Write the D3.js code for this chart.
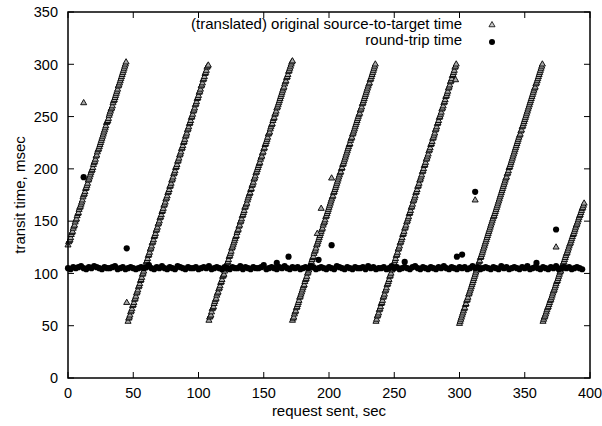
<!DOCTYPE html>
<html>
<head>
<meta charset="utf-8">
<script src="https://cdn.jsdelivr.net/npm/d3@7"></script>
<style>
    body { margin: 0; background: #fff; }
    svg { display: block; font-family: "Liberation Sans", Arial, Helvetica, sans-serif; }
    .tick-label { font-size: 14.5px; fill: #000; }
    .axis-label { font-size: 15px; fill: #000; }
    .legend-text { font-size: 15px; fill: #000; }
</style>
</head>
<body>
<svg width="602" height="426"></svg>
<script>
const width = 602;
const height = 426;

const margin = {
    top: 12,
    right: 12,
    bottom: 48,
    left: 68
};

// tick values
const xTicks = [0, 50, 100, 150, 200, 250, 300, 350, 400];
const yTicks = [0, 50, 100, 150, 200, 250, 300, 350];

// source-to-target time, one value every half second, each ramp starts at its own second
const halfStep = 0.5;

const ramp1Start = 0;
const ramp1 = [127, 130, 131, 132, 134, 137, 139, 140, 143, 145, 146, 149, 151, 152, 155, 157, 158, 161, 163, 164,
    166, 168, 170, 173, 175, 176, 178, 181, 182, 184, 186, 189, 190, 192, 194, 196, 198, 199, 201, 204,
    206, 207, 209, 212, 213, 216, 218, 219, 221, 223, 225, 227, 229, 231, 233, 235, 237, 239, 241, 244,
    245, 246, 248, 251, 253, 255, 257, 258, 260, 263, 265, 266, 268, 270, 272, 274, 276, 279, 280, 282,
    284, 286, 288, 290, 292, 294, 296, 298, 300, 302];

const ramp2Start = 46;
const ramp2 = [54, 57, 58, 60, 63, 64, 66, 69, 70, 72, 75, 76, 78, 81, 82, 84, 87, 88, 90, 93,
    94, 96, 99, 100, 102, 105, 106, 108, 111, 112, 114, 117, 118, 120, 123, 124, 126, 129, 130, 132,
    135, 136, 138, 141, 142, 144, 147, 148, 150, 153, 154, 156, 159, 160, 162, 165, 166, 168, 171, 172,
    174, 177, 178, 180, 183, 184, 186, 189, 190, 192, 195, 196, 198, 201, 202, 204, 207, 208, 210, 213,
    214, 216, 219, 220, 222, 225, 226, 228, 231, 232, 234, 237, 238, 240, 243, 244, 246, 249, 250, 252,
    255, 256, 258, 261, 262, 264, 267, 268, 270, 273, 274, 276, 279, 280, 282, 285, 286, 288, 291, 292,
    294, 297, 298, 299];

const ramp3Start = 108;
const ramp3 = [55, 58, 59, 60, 63, 66, 67, 68, 71, 73, 75, 76, 79, 81, 82, 85, 86, 88, 91, 92,
    94, 97, 98, 99, 102, 104, 105, 108, 110, 111, 113, 116, 117, 119, 121, 124, 125, 127, 129, 131,
    133, 135, 136, 139, 141, 142, 145, 146, 149, 150, 152, 155, 156, 158, 160, 163, 164, 166, 167, 170,
    172, 174, 176, 177, 180, 181, 184, 185, 187, 190, 191, 193, 196, 197, 199, 201, 203, 205, 206, 209,
    211, 212, 215, 216, 219, 220, 223, 224, 226, 228, 230, 233, 234, 235, 238, 240, 242, 243, 246, 248,
    249, 252, 253, 255, 258, 259, 261, 263, 265, 267, 269, 271, 273, 275, 277, 278, 281, 283, 284, 287,
    288, 290, 293, 294, 296, 298, 300, 302];

const ramp4Start = 172;
const ramp4 = [55, 57, 58, 61, 63, 64, 67, 68, 70, 72, 74, 77, 78, 80, 82, 84, 86, 88, 89, 92,
    94, 95, 97, 100, 101, 103, 105, 107, 109, 111, 113, 115, 116, 119, 121, 122, 124, 127, 128, 130,
    132, 134, 136, 138, 140, 142, 143, 146, 148, 149, 151, 154, 155, 157, 159, 161, 163, 165, 167, 169,
    171, 173, 174, 177, 178, 180, 182, 184, 186, 188, 190, 192, 194, 196, 197, 200, 201, 204, 205, 207,
    209, 211, 213, 215, 217, 219, 221, 223, 224, 227, 229, 230, 233, 234, 236, 238, 240, 242, 244, 246,
    248, 250, 252, 253, 256, 257, 259, 262, 263, 265, 267, 269, 271, 273, 275, 277, 279, 281, 282, 285,
    286, 288, 290, 292, 294, 296, 298, 300];

const ramp5Start = 236;
const ramp5 = [54, 56, 59, 60, 62, 65, 66, 68, 71, 72, 74, 77, 78, 80, 83, 84, 86, 89, 90, 92,
    94, 97, 98, 100, 103, 104, 106, 109, 110, 112, 114, 117, 118, 120, 123, 124, 126, 129, 130, 132,
    134, 137, 138, 140, 143, 144, 146, 149, 150, 152, 154, 157, 158, 160, 163, 164, 166, 169, 170, 172,
    174, 177, 178, 180, 183, 184, 186, 189, 190, 192, 194, 197, 198, 200, 203, 204, 206, 209, 210, 212,
    214, 217, 218, 220, 223, 224, 226, 229, 230, 232, 234, 237, 238, 240, 243, 244, 246, 249, 250, 252,
    254, 257, 258, 260, 263, 264, 266, 269, 270, 272, 274, 277, 278, 280, 283, 284, 286, 289, 290, 292,
    294, 297, 298, 300];

const ramp6Start = 300;
const ramp6 = [52, 54, 56, 58, 60, 62, 64, 66, 67, 70, 71, 74, 75, 77, 80, 81, 83, 85, 87, 89,
    91, 93, 95, 97, 99, 101, 103, 105, 107, 109, 111, 112, 115, 116, 118, 120, 122, 124, 126, 128,
    130, 132, 134, 136, 138, 140, 142, 144, 146, 148, 150, 152, 154, 155, 157, 159, 161, 163, 165, 167,
    169, 171, 173, 175, 177, 179, 181, 183, 185, 187, 189, 191, 192, 195, 196, 198, 201, 202, 204, 206,
    208, 210, 212, 214, 216, 218, 220, 222, 224, 226, 228, 230, 232, 233, 236, 237, 240, 241, 243, 245,
    247, 249, 251, 253, 255, 257, 259, 261, 263, 265, 267, 269, 271, 273, 275, 277, 278, 281, 282, 284,
    286, 288, 290, 292, 294, 296, 298, 300];

const ramp7Start = 364;
const ramp7 = [54, 56, 58, 59, 61, 63, 65, 67, 68, 70, 72, 74, 75, 77, 79, 81, 83, 84, 86, 88,
    90, 92, 93, 95, 97, 99, 101, 102, 104, 106, 108, 110, 111, 113, 115, 117, 119, 120, 122, 124,
    126, 128, 129, 131, 133, 135, 137, 138, 140, 142, 144, 146, 147, 149, 151, 153, 155, 156, 158, 160,
    162, 163, 165, 167];

// source-to-target points that fall off the ramps [sec, msec]
const sourceOutliers = [[12, 263], [45, 72], [172, 303], [191, 138], [194, 162], [202, 191], [297, 285],
    [312, 170], [374, 125]];

// round-trip time, one value every 2 seconds from 0
const rtStart = 0;
const rtStep = 2;
const roundTrip = [
    105, 104, 106, 105, 106, 107, 105, 104, 106, 105, 107, 106, 105, 104, 106, 105, 105, 106, 107, 104,
    105, 106, 104, 105, 106, 105, 104, 105, 106, 105, 106, 108, 105, 104, 106, 105, 107, 105, 104, 106,
    105, 104, 107, 106, 105, 104, 106, 105, 105, 106, 104, 105, 106, 105, 107, 104, 105, 106, 105, 104,
    106, 105, 104, 106, 105, 105, 107, 104, 106, 105, 104, 106, 105, 105, 106, 108, 104, 105, 106, 105,
    104, 106, 105, 107, 105, 104, 106, 105, 106, 104, 105, 106, 105, 107, 106, 104, 105, 106, 105, 104,
    106, 105, 104, 107, 106, 105, 104, 106, 105, 104, 106, 105, 105, 106, 104, 107, 105, 106, 104, 105,
    105, 106, 104, 105, 107, 105, 106, 104, 105, 106, 105, 104, 106, 107, 105, 104, 106, 105, 104, 106,
    105, 104, 106, 105, 107, 105, 104, 106, 105, 104, 106, 105, 106, 104, 105, 107, 105, 106, 104, 105,
    106, 105, 104, 106, 105, 104, 107, 105, 106, 104, 105, 106, 105, 104, 106, 105, 107, 104, 105, 106,
    105, 104, 106, 105, 104, 106, 105, 107, 104, 105, 106, 105, 106, 104, 105, 106, 105, 104];

// round-trip points away from the band [sec, msec]
const rtOutliers = [[12, 192], [45, 124], [160, 110], [169, 116], [192, 113], [202, 127], [258, 111],
    [298, 116], [302, 118], [312, 178], [359, 110], [374, 142]];

const svg = d3.select("svg");

// build the point lists
const ramps = [
    [ramp1Start, ramp1], [ramp2Start, ramp2], [ramp3Start, ramp3], [ramp4Start, ramp4],
    [ramp5Start, ramp5], [ramp6Start, ramp6], [ramp7Start, ramp7]
];
const sourcePoints = [];
ramps.forEach(([start, values]) => {
    values.forEach((v, i) => sourcePoints.push({ sec: start + i * halfStep, ms: v }));
});
sourceOutliers.forEach(d => sourcePoints.push({ sec: d[0], ms: d[1] }));

const rtPoints = roundTrip.map((v, i) => ({ sec: rtStart + i * rtStep, ms: v }));
rtOutliers.forEach(d => rtPoints.push({ sec: d[0], ms: d[1] }));

// x scale
const xScale = d3.scaleLinear()
    .domain([0, 400])
    .range([margin.left, width - margin.right]);

// y scale
const yScale = d3.scaleLinear()
    .domain([0, 350])
    .range([height - margin.bottom, margin.top]);

const x0 = xScale(0), x1 = xScale(400);
const y0 = yScale(0), y1 = yScale(350);

// ticks point inwards on every side
const tickLen = 6;
const ticks = svg.append("g").attr("stroke", "#000").attr("stroke-width", 1);

xTicks.forEach(t => {
    const x = xScale(t);
    ticks.append("line").attr("x1", x).attr("x2", x).attr("y1", y0).attr("y2", y0 - tickLen);
    ticks.append("line").attr("x1", x).attr("x2", x).attr("y1", y1).attr("y2", y1 + tickLen);
});

yTicks.forEach(t => {
    const y = yScale(t);
    ticks.append("line").attr("x1", x0).attr("x2", x0 + tickLen).attr("y1", y).attr("y2", y);
    ticks.append("line").attr("x1", x1).attr("x2", x1 - tickLen).attr("y1", y).attr("y2", y);
});

// tick labels
svg.append("g")
    .selectAll("text")
    .data(xTicks)
    .join("text")
    .attr("class", "tick-label")
    .attr("x", d => xScale(d))
    .attr("y", y0 + 20)
    .attr("text-anchor", "middle")
    .text(d => d);

svg.append("g")
    .selectAll("text")
    .data(yTicks)
    .join("text")
    .attr("class", "tick-label")
    .attr("x", x0 - 10)
    .attr("y", d => yScale(d))
    .attr("dy", "0.36em")
    .attr("text-anchor", "end")
    .text(d => d);

// source-to-target triangles
const triangle = d3.symbol().type(d3.symbolTriangle).size(16);

svg.append("g")
    .selectAll("path")
    .data(sourcePoints)
    .join("path")
    .attr("d", triangle)
    .attr("transform", d => `translate(${xScale(d.sec)},${yScale(d.ms)})`)
    .attr("fill", "#a8a8a8")
    .attr("stroke", "#000")
    .attr("stroke-width", 0.9);

// round-trip dots
svg.append("g")
    .selectAll("circle")
    .data(rtPoints)
    .join("circle")
    .attr("cx", d => xScale(d.sec))
    .attr("cy", d => yScale(d.ms))
    .attr("r", 3.1)
    .attr("fill", "#000");

// frame
svg.append("rect")
    .attr("x", x0)
    .attr("y", y1)
    .attr("width", x1 - x0)
    .attr("height", y0 - y1)
    .attr("fill", "none")
    .attr("stroke", "#000")
    .attr("stroke-width", 1.5);

// x axis label
svg.append("text")
    .attr("x", (x0 + x1) / 2)
    .attr("y", height - 10)
    .attr("text-anchor", "middle")
    .attr("class", "axis-label")
    .text("request sent, sec");

// y axis label
svg.append("text")
    .attr("transform", "rotate(-90)")
    .attr("x", -(y0 + y1) / 2)
    .attr("y", 25)
    .attr("text-anchor", "middle")
    .attr("class", "axis-label")
    .text("transit time, msec");

// legend
svg.append("text")
    .attr("x", 462)
    .attr("y", 29)
    .attr("text-anchor", "end")
    .attr("class", "legend-text")
    .text("(translated) original source-to-target time");

svg.append("path")
    .attr("d", triangle)
    .attr("transform", "translate(492,25)")
    .attr("fill", "#c8c8c8")
    .attr("stroke", "#000")
    .attr("stroke-width", 0.8);

svg.append("text")
    .attr("x", 462)
    .attr("y", 45)
    .attr("text-anchor", "end")
    .attr("class", "legend-text")
    .text("round-trip time");

svg.append("circle")
    .attr("cx", 492)
    .attr("cy", 42)
    .attr("r", 3)
    .attr("fill", "#000");
</script>
</body>
</html>
